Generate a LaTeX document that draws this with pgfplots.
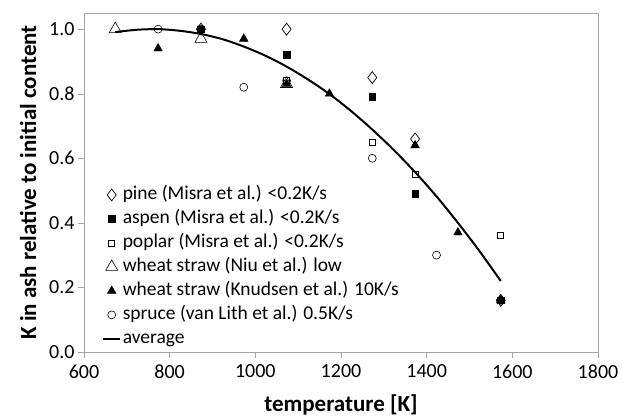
\documentclass[border=0pt]{standalone}
\usepackage{fontspec}
\setmainfont{Carlito}
\usepackage{pgfplots}
\pgfplotsset{compat=1.18}

\begin{document}
\begin{tikzpicture}
\begin{axis}[
 name=ax,
 scale only axis,
 width=514pt, height=339pt,
 xmin=600, xmax=1800,
 ymin=0, ymax=1.05,
 xtick={600,800,...,1800},
 ytick={0,0.2,0.4,0.6,0.8,1.0},
 xtick pos=bottom, ytick pos=left,
 tick align=outside,
 major tick length=6pt,
 axis line style={gray!70},
 every tick/.style={gray!70},
 /pgf/number format/assume math mode=true,
 x tick label style={font=\fontsize{20}{22}\selectfont,yshift=-3pt,/pgf/number format/1000 sep={}},
 y tick label style={font=\fontsize{20}{22}\selectfont,/pgf/number format/.cd,fixed,fixed zerofill,precision=1},
 xlabel={\textbf{temperature [K]}},
 ylabel={\textbf{K in ash relative to initial content}},
 label style={font=\fontsize{23}{25}\selectfont},
 xlabel style={yshift=-10pt},
 ylabel style={yshift=6pt},
 legend style={draw=none, fill=none, at={(0.035,0.495)}, anchor=north west,
  font=\fontsize{19.5}{23}\selectfont, row sep=3pt, inner sep=0pt,
  nodes={inner sep=1.5pt, text height=14pt, text depth=4pt}},
 legend cell align={left},
]
\addplot[only marks, mark=diamond, mark size=6pt, mark options={draw=black, fill=white, line width=0.7pt}]
 coordinates {(873,1.0) (1073,1.0) (1273,0.85) (1373,0.66) (1573,0.16)};
\addlegendentry{pine (Misra et al.) <0.2K/s}
\addplot[only marks, mark=square*, mark size=3.3pt, mark options={draw=black, fill=black}]
 coordinates {(873,1.0) (1073,0.92) (1273,0.79) (1373,0.49) (1573,0.16)};
\addlegendentry{aspen (Misra et al.) <0.2K/s}
\addplot[only marks, mark=square, mark size=3pt, mark options={draw=black, line width=0.6pt}]
 coordinates {(873,1.0) (1073,0.84) (1273,0.65) (1373,0.55) (1573,0.36)};
\addlegendentry{poplar (Misra et al.) <0.2K/s}
\addplot[only marks, mark=triangle, mark size=7pt, mark options={draw=black, line width=0.6pt}]
 coordinates {(673,1.0) (873,0.97) (1073,0.83)};
\addlegendentry{wheat straw (Niu et al.) low}
\addplot[only marks, mark=triangle*, mark size=5pt, mark options={draw=black, fill=black}]
 coordinates {(773,0.94) (973,0.97) (1073,0.83) (1173,0.80) (1373,0.64) (1473,0.37) (1573,0.16)};
\addlegendentry{wheat straw (Knudsen et al.) 10K/s}
\addplot[only marks, mark=o, mark size=4pt, mark options={draw=black, line width=0.6pt}]
 coordinates {(773,1.0) (873,1.0) (973,0.82) (1073,0.84) (1273,0.60) (1423,0.30) (1573,0.16)};
\addlegendentry{spruce (van Lith et al.) 0.5K/s}
\addplot[black, line width=2pt, smooth, no markers]
 coordinates {(673,0.991) (723,0.998) (773,1.0) (823,0.995) (873,0.985) (923,0.969) (973,0.946) (1023,0.918) (1073,0.884) (1123,0.844) (1173,0.799) (1223,0.747) (1273,0.689) (1323,0.626) (1373,0.557) (1423,0.482) (1473,0.400) (1523,0.313) (1573,0.220)};
\addlegendentry{average}
\end{axis}
\path (ax.south west) ++(-84pt,-62pt);
\path (ax.north east) ++(24pt,13pt);
\end{tikzpicture}
\end{document}
